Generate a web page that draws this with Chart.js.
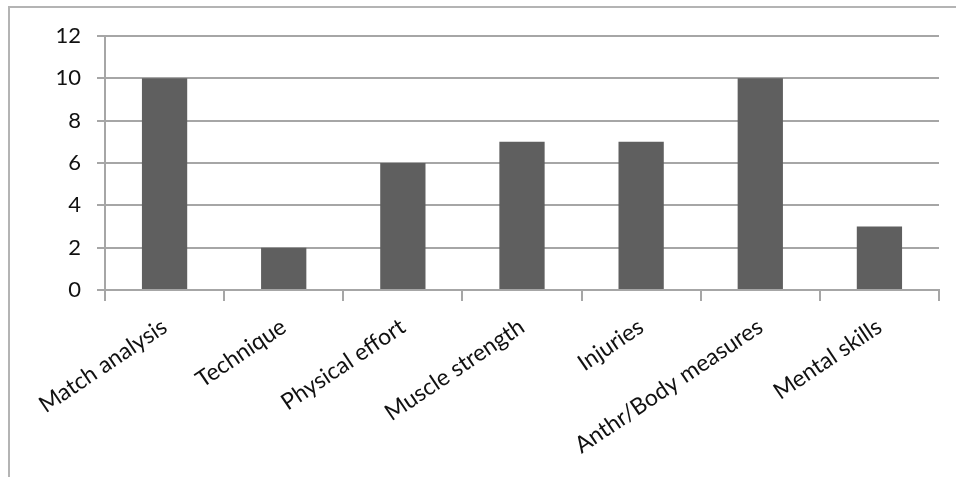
<!DOCTYPE html>
<html>
<head>
<meta charset="utf-8">
<script src="https://cdn.jsdelivr.net/npm/chart.js@4"></script>
<style>
    html, body { margin: 0; padding: 0; background: #fff; }
    #wrap { position: relative; width: 956px; height: 477px; overflow: hidden; }
    #frame { position: absolute; left: 8px; top: 6px; width: 1000px; height: 1000px;
             border-left: 2px solid #b4b4b4; border-top: 2px solid #b4b4b4; }
    canvas { position: absolute; left: 0; top: 0; }
</style>
</head>
<body>
<div id="wrap">
    <div id="frame"></div>
    <canvas id="chart" width="956" height="477"></canvas>
</div>
<script>
const categories = ["Match analysis", "Technique", "Physical effort", "Muscle strength", "Injuries", "Anthr/Body measures", "Mental skills"];
const counts = [10, 2, 6, 7, 7, 10, 3];
const yTicks = [0, 2, 4, 6, 8, 10, 12];

const ctx = document.getElementById("chart").getContext("2d");
new Chart(ctx, {
    type: 'bar',
    data: {
        labels: categories,
        datasets: [{
            data: counts,
            backgroundColor: '#5f5f5f',
            borderWidth: 0,
            barPercentage: 0.38,
            categoryPercentage: 1
        }]
    },
    options: {
        responsive: false,
        animation: false,
        layout: { padding: { top: 36, right: 17, left: 0, bottom: 0 } },
        plugins: { legend: { display: false }, tooltip: { enabled: false } },
        scales: {
            x: {
                afterFit: s => { s.height = 187; },
                grid: { drawOnChartArea: false, drawTicks: true, tickLength: 11, color: '#a6a6a6', lineWidth: 2 },
                border: { color: '#a6a6a6', width: 2 },
                ticks: {
                    minRotation: 34, maxRotation: 34, padding: 12,
                    color: '#111',
                    font: { family: 'Lato', size: 23 }
                }
            },
            y: {
                min: 0, max: 12,
                afterFit: s => { s.width = 105; },
                afterBuildTicks: s => { s.ticks = yTicks.map(v => ({ value: v })); },
                grid: { color: '#a6a6a6', lineWidth: 2, tickLength: 8 },
                border: { color: '#a6a6a6', width: 2 },
                ticks: {
                    padding: 16,
                    color: '#111',
                    font: { family: 'Lato', size: 22 }
                }
            }
        }
    }
});
</script>
</body>
</html>
